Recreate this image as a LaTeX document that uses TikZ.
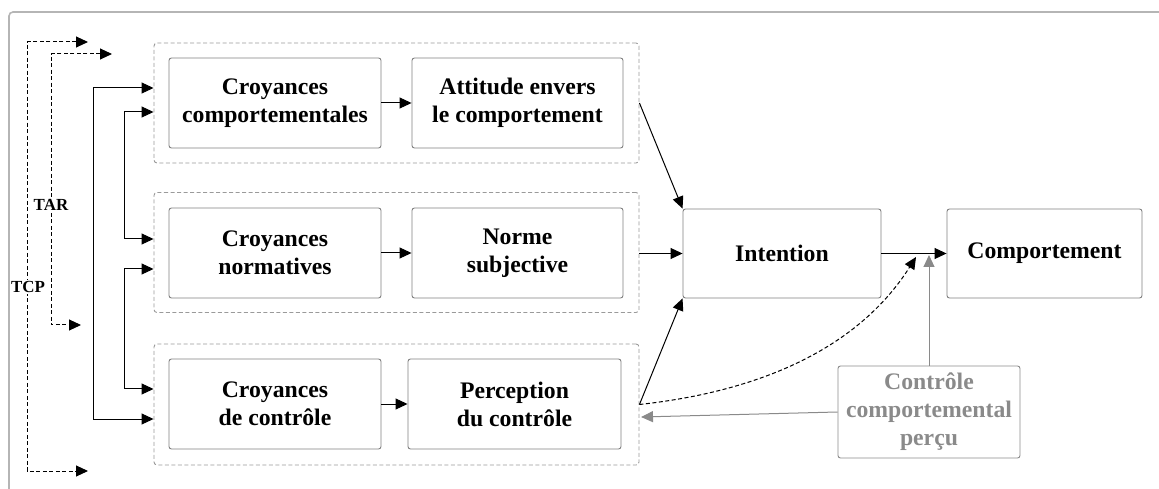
\documentclass[tikz,border=0pt]{standalone}
\usepackage{fontspec}
\setmainfont{Liberation Serif}
\usetikzlibrary{arrows.meta}
\definecolor{boxgray}{HTML}{808080}
\definecolor{grpgray}{HTML}{9A9A9A}
\definecolor{framegray}{HTML}{B5B5B5}
\definecolor{txtgray}{HTML}{8A8A8A}
\begin{document}
\begin{tikzpicture}[x=1bp,y=-1bp,
  box/.style={draw=boxgray, rounded corners=2.5bp, line width=0.9bp, minimum width=212bp, minimum height=90bp,
    font=\fontsize{23.8}{28}\selectfont\bfseries, align=center, inner sep=0pt},
  grp/.style={draw=grpgray, dash pattern=on 4bp off 2.5bp, rounded corners=3bp, line width=0.9bp,
    minimum width=485bp, minimum height=120bp, inner sep=0pt},
  tip/.tip={Triangle[length=12bp,width=11bp]},
  arr/.style={-tip, line width=1bp, black},
  darr/.style={tip-tip, line width=1bp, black, dash pattern=on 4bp off 2.5bp},
  sarr/.style={tip-tip, line width=1bp, black},
  garr/.style={-tip, line width=1bp, txtgray},
  lbl/.style={fill=white, inner sep=1pt, font=\fontsize{17}{20}\selectfont\bfseries}
]
\useasboundingbox (0,0) rectangle (1159,489);
\begin{scope}
  \clip (0,0) rectangle (1159,489);
  \draw[framegray, line width=1.6bp, rounded corners=4bp] (9,12) rectangle (1220,540);
\end{scope}

% groups
\node[grp] (g1) at (396.5,103) {};
\node[grp] (g2) at (396.5,252.5) {};
\node[grp, minimum height=121bp] (g3) at (396.5,404.5) {};

% boxes
\node[box] (cc) at (275,103) {Croyances\\comportementales};
\node[box, minimum width=211bp] (att) at (517.5,103) {Attitude envers\\le comportement};
\node[box] (cn) at (275,253) {Croyances\\normatives};
\node[box, minimum width=211bp] (ns) at (517.5,253) {Norme\\subjective};
\node[box] (cdc) at (275,404) {Croyances\\de contrôle};
\node[box, minimum width=213bp] (pc) at (514.5,404) {Perception\\du contrôle};
\node[box, minimum width=198bp, minimum height=89bp] (int) at (782,253.5) {Intention};
\node[box, minimum width=195bp, minimum height=89bp] (comp) at (1044.5,253.5) {Comportement};
\node[box, minimum width=182bp, minimum height=92bp, text=txtgray, draw=txtgray] (ctrl) at (929,412) {Contrôle\\comportemental\\perçu};

% inner arrows
\draw[arr] (cc) -- (att);
\draw[arr] (cn) -- (ns);
\draw[arr] (cdc) -- (pc);

% to intention
\draw[arr] (g1.east) -- (int.north west);
\draw[arr] (g2.east |- int.west) -- (int.west);
\draw[arr] (g3.east) -- (int.south west);
\draw[arr] (int.east) -- (comp.west);

% dashed curve and gray arrows
\coordinate (jd) at (916,257);
\coordinate (jg) at (929,255);
\coordinate (g3in) at (641,417);
\draw[arr, dash pattern=on 4bp off 2.5bp] (g3.east) .. controls (790,388) and (870,330) .. (jd);
\draw[garr] (ctrl.north) -- (jg);
\draw[garr] (ctrl.west) -- (g3in);

% left solid connectors
\coordinate (s1a) at (93,88);
\coordinate (s1b) at (93,419);
\coordinate (s2a) at (124,112);
\coordinate (s2b) at (124,239);
\coordinate (s3a) at (124,269);
\coordinate (s3b) at (124,389);
\draw[sarr] (g1.west |- s1a) -- (s1a) -- (s1b) -- (g3.west |- s1b);
\draw[sarr] (g1.west |- s2a) -- (s2a) -- (s2b) -- (g2.west |- s2b);
\draw[sarr] (g2.west |- s3a) -- (s3a) -- (s3b) -- (g3.west |- s3b);

% dashed TCP / TAR
\coordinate (t1) at (88,42);
\coordinate (t1c) at (27,42);
\coordinate (t2c) at (27,471);
\coordinate (t2) at (88,471);
\coordinate (r1) at (112,54);
\coordinate (r1c) at (51,54);
\coordinate (r2c) at (51,325);
\coordinate (r2) at (81,325);
\draw[darr] (t1) -- (t1c) -- (t2c) -- (t2);
\draw[darr] (r1) -- (r1c) -- (r2c) -- (r2);
\node[lbl] (tcp) at (28,287) {TCP};
\node[lbl] (tar) at (51,205) {TAR};
\end{tikzpicture}
\end{document}
